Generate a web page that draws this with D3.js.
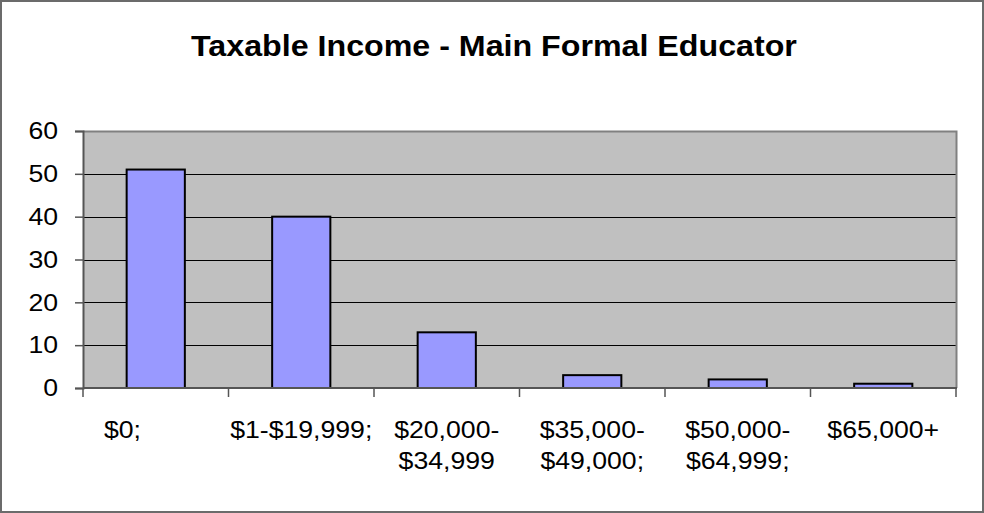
<!DOCTYPE html>
<html>
<head>
<meta charset="utf-8">
<script src="https://cdn.jsdelivr.net/npm/d3@7/dist/d3.min.js"></script>
<style>
  html, body { margin: 0; padding: 0; background: #fff; }
  svg { display: block; font-family: "Liberation Sans", Arial, sans-serif; }
  text { white-space: pre; }
</style>
</head>
<body>
<svg id="chart" width="984" height="513"></svg>
<script>
// Income bands (each label may wrap to two lines)
const categories = [
  ["$0;         "],
  ["$1-$19,999;"],
  ["$20,000-", "$34,999"],
  ["$35,000-", "$49,000;"],
  ["$50,000-", "$64,999;"],
  ["$65,000+"]
];
const counts = [51, 40, 13, 3, 2, 1];
const yTicks = [0, 10, 20, 30, 40, 50, 60];
const title = "Taxable Income - Main Formal Educator";

const svg = d3.select("#chart");
const W = 984, H = 513;
const plot = { left: 83, right: 956, top: 131, bottom: 388 };
const stretch = 1.11; // text is drawn slightly wide

// Widen a text element horizontally around its anchor
function widen(sel) {
  sel.each(function () {
    const len = this.getComputedTextLength();
    if (len > 0) {
      d3.select(this)
        .attr("textLength", len * stretch)
        .attr("lengthAdjust", "spacingAndGlyphs");
    }
  });
}

// Outer chart frame
svg.append("rect")
  .attr("x", 1).attr("y", 1).attr("width", W - 2).attr("height", H - 2)
  .attr("fill", "#fff").attr("stroke", "#6b6b6b").attr("stroke-width", 2);

// Title
svg.append("text")
  .attr("x", 494).attr("y", 56)
  .attr("text-anchor", "middle")
  .attr("font-size", 29).attr("font-weight", "bold")
  .attr("fill", "#000")
  .text(title)
  .call(widen);

const x = d3.scaleBand()
  .domain(d3.range(categories.length))
  .range([plot.left, plot.right])
  .paddingInner(0.6).paddingOuter(0.3);

const y = d3.scaleLinear()
  .domain([0, 60])
  .range([plot.bottom, plot.top]);

// Plot background
svg.append("rect")
  .attr("x", plot.left).attr("y", plot.top)
  .attr("width", plot.right - plot.left).attr("height", plot.bottom - plot.top)
  .attr("fill", "#c0c0c0");

// Horizontal gridlines
svg.append("g")
  .selectAll("line")
  .data(yTicks.filter(t => t > 0 && t < 60))
  .join("line")
  .attr("x1", plot.left).attr("x2", plot.right)
  .attr("y1", d => Math.round(y(d)) + 0.5).attr("y2", d => Math.round(y(d)) + 0.5)
  .attr("stroke", "#000").attr("stroke-width", 1.2);

// Plot border (top and right)
svg.append("path")
  .attr("d", `M${plot.left},${plot.top + 0.5}H${plot.right + 0.5}V${plot.bottom}`)
  .attr("fill", "none").attr("stroke", "#808080").attr("stroke-width", 2);

// Bars
svg.append("g")
  .selectAll("rect")
  .data(counts)
  .join("rect")
  .attr("x", (d, i) => x(i))
  .attr("y", d => y(d))
  .attr("width", x.bandwidth())
  .attr("height", d => y(0) - y(d))
  .attr("fill", "#9999ff")
  .attr("stroke", "#000").attr("stroke-width", 2);

// Y axis
const yAxis = d3.axisLeft(y).tickValues(yTicks).tickSize(8).tickPadding(17);
const gy = svg.append("g")
  .attr("transform", `translate(${plot.left},0)`)
  .call(yAxis);
gy.select(".domain").attr("stroke", "#555").attr("stroke-width", 2);
gy.selectAll(".tick line").attr("stroke", "#555").attr("stroke-width", 1.5);
gy.selectAll(".tick text")
  .attr("font-size", 24).attr("font-family", "Liberation Sans, Arial, sans-serif")
  .attr("fill", "#000")
  .call(widen);

// X axis: baseline plus ticks at category boundaries
const boundaries = d3.range(categories.length + 1).map(i => plot.left + i * x.step());
const gx = svg.append("g");
gx.append("line")
  .attr("x1", plot.left).attr("x2", plot.right + 1)
  .attr("y1", plot.bottom).attr("y2", plot.bottom)
  .attr("stroke", "#555").attr("stroke-width", 2);
gx.selectAll("line.tick")
  .data(boundaries)
  .join("line")
  .attr("class", "tick")
  .attr("x1", d => d).attr("x2", d => d)
  .attr("y1", plot.bottom).attr("y2", plot.bottom + 9)
  .attr("stroke", "#555").attr("stroke-width", 1.5);

// Category labels, one text element per line
svg.append("g")
  .selectAll("text")
  .data(categories.flatMap((lines, i) => lines.map((line, j) => ({ line, i, j }))))
  .join("text")
  .attr("text-anchor", "middle")
  .attr("font-size", 24)
  .attr("fill", "#000")
  .attr("x", d => x(d.i) + x.bandwidth() / 2)
  .attr("y", d => 438 + d.j * 31)
  .text(d => d.line)
  .call(widen);
</script>
</body>
</html>
